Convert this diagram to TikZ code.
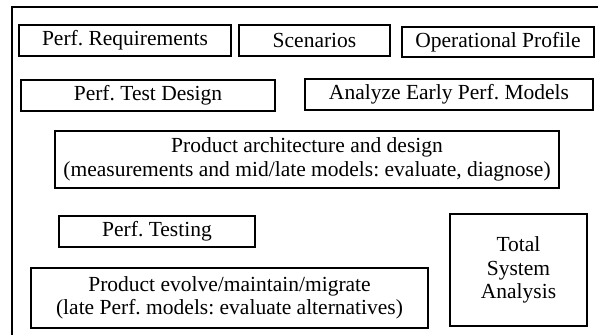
\documentclass[tikz,border=0pt]{standalone}
\usepackage{fontspec}
\setmainfont{Liberation Serif}
\frenchspacing
\begin{document}
\begin{tikzpicture}[x=1pt,y=-1pt,
  box/.style={draw, line width=1.5pt, inner sep=0pt, align=center,
    font=\fontsize{21.5}{23.5}\selectfont},
  frame/.style={line width=1.5pt}]
\useasboundingbox (0,0) rectangle (598,335);
\draw[frame] (12,340) -- (12,7) -- (602,7);
\node[box, minimum width=212pt, minimum height=31pt] (req) at (125,40.5) {Perf. Requirements};
\node[box, minimum width=151pt, minimum height=31pt] (scen) at (314.5,40.5) {Scenarios};
\node[box, minimum width=192pt, minimum height=30pt] (oper) at (498,42) {Operational Profile};
\node[box, minimum width=254pt, minimum height=31pt] (tdes) at (148,95.5) {Perf. Test Design};
\node[box, minimum width=288pt, minimum height=31pt] (early) at (449,94.5) {Analyze Early Perf. Models};
\node[box, minimum width=504pt, minimum height=57pt] (arch) at (307,159.5) {Product architecture and design\\(measurements and mid/late models: evaluate, diagnose)};
\node[box, minimum width=196pt, minimum height=31pt] (test) at (157,231.5) {Perf. Testing};
\node[box, minimum width=397pt, minimum height=60pt] (evol) at (229.5,298) {Product evolve/maintain/migrate\\(late Perf. models: evaluate alternatives)};
\node[box, minimum width=137pt, minimum height=112pt] (total) at (518.5,270) {Total\\System\\Analysis};
\end{tikzpicture}
\end{document}
